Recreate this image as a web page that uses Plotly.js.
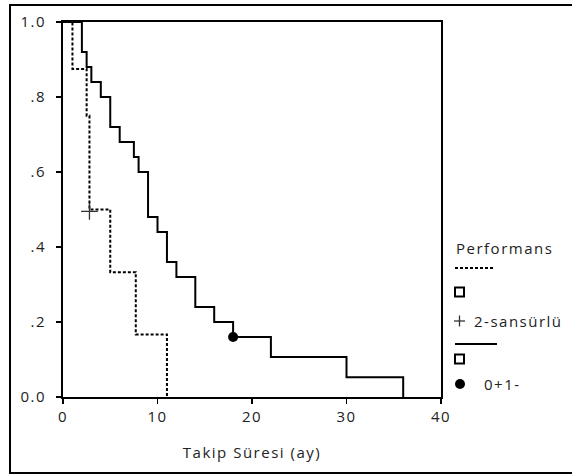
<!DOCTYPE html>
<html>
<head>
<meta charset="utf-8">
<script src="https://cdn.plot.ly/plotly-3.0.1.min.js"></script>
<style>
html,body{margin:0;padding:0;background:#fff;}
text{letter-spacing:1.5px;}
</style>
</head>
<body>
<div id="chart" style="width:572px;height:475px;"></div>
<script>
// Group 0+1 (solid) Kaplan-Meier steps
const timeG01 = [0, 2, 2.5, 3, 4, 5, 6, 7.5, 8, 9, 10, 11, 12, 14, 16, 18, 22, 30, 36];
const survG01 = [1, 0.92, 0.88, 0.84, 0.80, 0.72, 0.68, 0.64, 0.60, 0.48, 0.44, 0.36, 0.32, 0.24, 0.20, 0.16, 0.107, 0.053, 0];
const censTimeG01 = [18];
const censSurvG01 = [0.16];
// Group 2 (dotted)
const timeG2 = [0, 1, 2.5, 2.8, 5, 7.7, 11];
const survG2 = [1, 0.875, 0.75, 0.5, 0.333, 0.167, 0];
const censTimeG2 = [2.8];
const censSurvG2 = [0.495];
// Tick labels
const xTicks = [0, 10, 20, 30, 40];
const yTicks = [0, 0.2, 0.4, 0.6, 0.8, 1.0];
const yTickText = ["0.0", ".2", ".4", ".6", ".8", "1.0"];
const legendTitle = "Performans";
const legendLabel2 = "2-sansürlü";
const legendLabel01 = "0+1-";
const xTitle = "Takip Süresi (ay)";

const W = 572, H = 475, ML = 63, MR = 131, MT = 22, MB = 78;
const PW = W - ML - MR, PH = H - MT - MB;
const px = x => (x - ML) / PW;
const py = y => (H - MB - y) / PH;
const FONT = {family: "Open Sans, sans-serif", size: 15, color: "#222"};

const traces = [
  {x: timeG2, y: survG2, mode: "lines", line: {shape: "hv", color: "#000", width: 2, dash: "3px,2px"}, hoverinfo: "skip"},
  {x: timeG01, y: survG01, mode: "lines", line: {shape: "hv", color: "#000", width: 2}, hoverinfo: "skip"},
  {x: censTimeG2, y: censSurvG2, mode: "markers", marker: {symbol: "cross-thin-open", size: 12, color: "#333", line: {width: 1.3, color: "#333"}}, hoverinfo: "skip"},
  {x: censTimeG01, y: censSurvG01, mode: "markers", marker: {symbol: "circle", size: 10, color: "#000"}, hoverinfo: "skip"}
];

const shapes = [
  // outer frame
  {type: "rect", xref: "paper", yref: "paper", x0: px(10), x1: px(590), y0: py(473), y1: py(5), line: {color: "#000", width: 2}},
  // legend: dotted line
  {type: "line", xref: "paper", yref: "paper", x0: px(455), x1: px(495), y0: py(268), y1: py(268), line: {color: "#000", width: 2, dash: "3px,2px"}},
  // square 1
  {type: "rect", xref: "paper", yref: "paper", x0: px(455), x1: px(464), y0: py(296.5), y1: py(287.5), line: {color: "#000", width: 2}},
  // plus
  {type: "line", xref: "paper", yref: "paper", x0: px(454), x1: px(465), y0: py(321), y1: py(321), line: {color: "#333", width: 1.3}},
  {type: "line", xref: "paper", yref: "paper", x0: px(459.5), x1: px(459.5), y0: py(315.5), y1: py(326.5), line: {color: "#333", width: 1.3}},
  // solid line
  {type: "line", xref: "paper", yref: "paper", x0: px(455), x1: px(497), y0: py(344), y1: py(344), line: {color: "#000", width: 2}},
  // square 2
  {type: "rect", xref: "paper", yref: "paper", x0: px(455), x1: px(464), y0: py(363.5), y1: py(354.5), line: {color: "#000", width: 2}},
  // dot
  {type: "circle", xref: "paper", yref: "paper", x0: px(455), x1: px(465), y0: py(389), y1: py(379), fillcolor: "#000", line: {color: "#000", width: 0}}
];

const annotations = [
  {text: legendTitle, xref: "paper", yref: "paper", x: px(454), y: py(248), xanchor: "left", yanchor: "middle", showarrow: false, font: FONT},
  {text: legendLabel2, xref: "paper", yref: "paper", x: px(472), y: py(321), xanchor: "left", yanchor: "middle", showarrow: false, font: FONT},
  {text: legendLabel01, xref: "paper", yref: "paper", x: px(482), y: py(384), xanchor: "left", yanchor: "middle", showarrow: false, font: FONT}
];

const axisCommon = {showline: true, mirror: true, linecolor: "#000", linewidth: 2, ticks: "outside", ticklen: 5, tickwidth: 1.5, tickcolor: "#000", showgrid: false, zeroline: false, automargin: false, tickfont: FONT, fixedrange: true};

const layout = {
  width: W, height: H,
  margin: {l: ML, r: MR, t: MT, b: MB, pad: 0},
  paper_bgcolor: "#fff", plot_bgcolor: "#fff",
  showlegend: false,
  font: FONT,
  xaxis: Object.assign({}, axisCommon, {range: [0, 40], tickvals: xTicks, title: {text: xTitle, font: FONT, standoff: 22}}),
  yaxis: Object.assign({}, axisCommon, {range: [0, 1], tickvals: yTicks, ticktext: yTickText, ticklabelstandoff: 7}),
  shapes: shapes,
  annotations: annotations
};

Plotly.newPlot("chart", traces, layout, {displayModeBar: false, staticPlot: true});
</script>
</body>
</html>
